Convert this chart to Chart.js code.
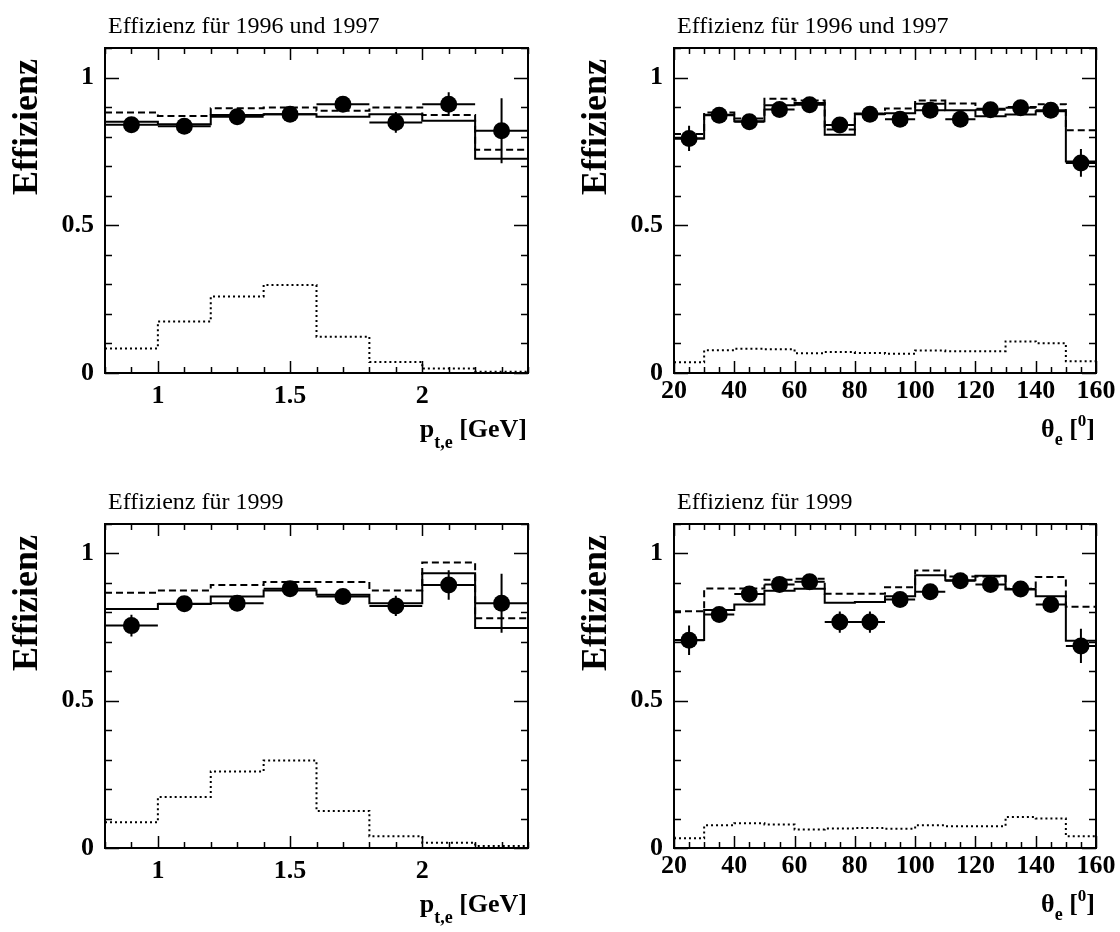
<!DOCTYPE html>
<html>
<head>
<meta charset="utf-8">
<script src="https://cdn.jsdelivr.net/npm/chart.js@4.4.1/dist/chart.umd.min.js"></script>
<style>
  html, body { margin: 0; padding: 0; background: #fff; }
  #wrap { position: relative; width: 1120px; height: 932px; overflow: hidden; background: #fff; }
  canvas { position: absolute; }
</style>
</head>
<body>
<div id="wrap">
  <canvas id="c1" width="560" height="466" style="left:0;top:0"></canvas>
  <canvas id="c2" width="560" height="466" style="left:560px;top:0"></canvas>
  <canvas id="c3" width="560" height="466" style="left:0;top:466px"></canvas>
  <canvas id="c4" width="560" height="466" style="left:560px;top:466px"></canvas>
</div>
<script>
// ---------- data ----------
const ptEdges = [0.8, 1.0, 1.2, 1.4, 1.6, 1.8, 2.0, 2.2, 2.4];
const thetaEdges = [20, 30, 40, 50, 60, 70, 80, 90, 100, 110, 120, 130, 140, 150, 160];

const ptTickValues = [1, 1.5, 2];
const thetaTickValues = [20, 40, 60, 80, 100, 120, 140, 160];
const yTickValues = [0, 0.5, 1];

const titles = ["Effizienz für 1996 und 1997", "Effizienz für 1996 und 1997", "Effizienz für 1999", "Effizienz für 1999"];
const yTitle = "Effizienz";

// p_t,e, 1996/97
const ptData9697  = [0.840, 0.835, 0.867, 0.876, 0.910, 0.848, 0.910, 0.820];
const ptErr9697   = [0.012, 0.012, 0.012, 0.012, 0.015, 0.035, 0.040, 0.110];
const ptSolid9697 = [0.850, 0.842, 0.873, 0.876, 0.867, 0.876, 0.854, 0.725];
const ptDash9697  = [0.882, 0.870, 0.896, 0.899, 0.888, 0.899, 0.873, 0.756];
const ptDot9697   = [0.083, 0.174, 0.259, 0.298, 0.123, 0.037, 0.015, 0.004];

// theta_e, 1996/97
const thData9697  = [0.794, 0.872, 0.850, 0.892, 0.908, 0.839, 0.876, 0.859, 0.889, 0.859, 0.891, 0.898, 0.889, 0.711];
const thErr9697   = [0.043, 0.015, 0.015, 0.015, 0.015, 0.015, 0.015, 0.015, 0.015, 0.015, 0.015, 0.015, 0.015, 0.047];
const thSolid9697 = [0.794, 0.874, 0.852, 0.906, 0.914, 0.806, 0.877, 0.879, 0.911, 0.889, 0.869, 0.875, 0.886, 0.716];
const thDash9697  = [0.809, 0.882, 0.861, 0.928, 0.922, 0.824, 0.878, 0.895, 0.922, 0.912, 0.894, 0.900, 0.910, 0.822];
const thDot9697   = [0.036, 0.077, 0.082, 0.080, 0.067, 0.071, 0.068, 0.065, 0.076, 0.074, 0.074, 0.107, 0.101, 0.040];

// p_t,e, 1999
const ptData99  = [0.755, 0.829, 0.831, 0.880, 0.854, 0.822, 0.893, 0.831];
const ptErr99   = [0.037, 0.015, 0.015, 0.015, 0.015, 0.034, 0.050, 0.100];
const ptSolid99 = [0.811, 0.828, 0.854, 0.874, 0.860, 0.831, 0.933, 0.747];
const ptDash99  = [0.867, 0.874, 0.893, 0.903, 0.903, 0.874, 0.969, 0.780];
const ptDot99   = [0.087, 0.173, 0.260, 0.297, 0.126, 0.040, 0.018, 0.007];

// theta_e, 1999
const thData99  = [0.705, 0.793, 0.862, 0.895, 0.904, 0.767, 0.767, 0.844, 0.870, 0.907, 0.895, 0.879, 0.827, 0.686];
const thErr99   = [0.050, 0.020, 0.015, 0.015, 0.015, 0.036, 0.036, 0.015, 0.015, 0.015, 0.015, 0.015, 0.015, 0.058];
const thSolid99 = [0.706, 0.808, 0.827, 0.873, 0.880, 0.833, 0.835, 0.855, 0.926, 0.909, 0.924, 0.878, 0.855, 0.704];
const thDash99  = [0.804, 0.881, 0.881, 0.911, 0.914, 0.863, 0.863, 0.885, 0.942, 0.922, 0.922, 0.880, 0.920, 0.819];
const thDot99   = [0.033, 0.077, 0.084, 0.080, 0.063, 0.066, 0.068, 0.065, 0.077, 0.074, 0.074, 0.105, 0.100, 0.040];

// ---------- drawing ----------
const SERIF = "'Liberation Serif', 'Times New Roman', serif";

const decor = {
  id: 'decor',
  afterDraw(chart, args, o) {
    const { ctx, chartArea: a, scales: { x, y } } = chart;
    ctx.save();
    ctx.strokeStyle = '#000';
    ctx.fillStyle = '#000';
    // ticks
    ctx.lineWidth = 1.5;
    ctx.beginPath();
    const isMaj = (v, arr) => arr.some(m => Math.abs(m - v) < 1e-6);
    for (let k = 0; ; k++) {
      const v = o.xmin + k * o.xMinorStep;
      if (v > o.xmax + 1e-9) break;
      const len = isMaj(v, o.xTicks) ? 12 : 6;
      const px = Math.round(x.getPixelForValue(v)) + 0.5;
      ctx.moveTo(px, a.bottom); ctx.lineTo(px, a.bottom - len);
      ctx.moveTo(px, a.top); ctx.lineTo(px, a.top + len);
    }
    for (let k = 0; k <= 11; k++) {
      const v = k * 0.1;
      const len = isMaj(v, yTickValues) ? 14 : 7;
      const py = Math.round(y.getPixelForValue(v)) + 0.5;
      ctx.moveTo(a.left, py); ctx.lineTo(a.left + len, py);
      ctx.moveTo(a.right, py); ctx.lineTo(a.right - len, py);
    }
    ctx.stroke();
    // frame
    ctx.lineWidth = 2;
    ctx.strokeRect(a.left, a.top, a.right - a.left, a.bottom - a.top);

    // panel title
    ctx.font = '24px ' + SERIF;
    ctx.textAlign = 'left';
    ctx.textBaseline = 'alphabetic';
    ctx.fillText(o.title, a.left + 3, a.top - 15);

    // y title
    ctx.save();
    ctx.font = 'bold 36px ' + SERIF;
    ctx.translate(a.left - 68, a.top + 11);
    ctx.rotate(-Math.PI / 2);
    ctx.textAlign = 'right';
    ctx.fillText(yTitle, 0, 0);
    ctx.restore();

    // x title (with sub/superscripts)
    const base = a.bottom + 64;
    const parts = o.xTitle;
    let total = 0;
    for (const p of parts) {
      ctx.font = 'bold ' + p.size + 'px ' + SERIF;
      p.w = ctx.measureText(p.t).width;
      total += p.w;
    }
    let cx = a.right - 1 - total;
    for (const p of parts) {
      ctx.font = 'bold ' + p.size + 'px ' + SERIF;
      ctx.textAlign = 'left';
      ctx.fillText(p.t, cx, base + (p.dy || 0));
      cx += p.w;
    }
    ctx.restore();
  }
};

function histPts(edges, vals) {
  const pts = vals.map((v, i) => ({ x: edges[i], y: v }));
  pts.push({ x: edges[edges.length - 1], y: vals[vals.length - 1] });
  return pts;
}

function makePanel(id, cfg) {
  const edges = cfg.edges;
  const centers = edges.slice(0, -1).map((e, i) => (e + edges[i + 1]) / 2);
  const errH = [], errV = [];
  cfg.data.forEach((v, i) => {
    errH.push({ x: edges[i], y: v }, { x: edges[i + 1], y: v }, { x: edges[i + 1], y: null });
    errV.push({ x: centers[i], y: v - cfg.err[i] }, { x: centers[i], y: v + cfg.err[i] }, { x: centers[i], y: null });
  });
  const line = (data, extra) => Object.assign({
    data, borderColor: '#000', borderWidth: 2, pointRadius: 0, fill: false, spanGaps: false, tension: 0
  }, extra || {});

  new Chart(document.getElementById(id), {
    type: 'line',
    data: {
      datasets: [
        { data: centers.map((c, i) => ({ x: c, y: cfg.data[i] })), showLine: false,
          pointRadius: 8.5, pointBackgroundColor: '#000', pointBorderColor: '#000', pointBorderWidth: 0, borderColor: '#000' },
        line(errV),
        line(errH),
        line(histPts(edges, cfg.solid), { stepped: 'before' }),
        line(histPts(edges, cfg.dash), { stepped: 'before', borderDash: [7, 4] }),
        line(histPts(edges, cfg.dot), { stepped: 'before', borderDash: [2, 3] })
      ]
    },
    options: {
      responsive: false,
      animation: false,
      events: [],
      layout: { padding: { top: cfg.T, right: cfg.R, left: 0, bottom: 0 }, autoPadding: false },
      plugins: {
        legend: { display: false },
        tooltip: { enabled: false },
        decor: { xmin: cfg.xmin, xmax: cfg.xmax, xMinorStep: cfg.minor, xTicks: cfg.xTicks, title: cfg.title, xTitle: cfg.xTitle }
      },
      scales: {
        x: {
          type: 'linear', min: cfg.xmin, max: cfg.xmax,
          grid: { display: false, drawTicks: false }, border: { display: false },
          ticks: { color: '#000', font: { family: SERIF, weight: 'bold', size: 26 }, padding: cfg.xpad,
                   maxRotation: 0, autoSkip: false, callback: v => String(v) },
          afterBuildTicks: s => { s.ticks = cfg.xTicks.map(v => ({ value: v })); },
          afterFit: s => { s.height = cfg.B; }
        },
        y: {
          type: 'linear', min: 0, max: 1.1,
          grid: { display: false, drawTicks: false }, border: { display: false },
          ticks: { color: '#000', font: { family: SERIF, weight: 'bold', size: 26 }, padding: 11,
                   autoSkip: false, callback: v => String(v) },
          afterBuildTicks: s => { s.ticks = yTickValues.map(v => ({ value: v })); },
          afterFit: s => { s.width = cfg.L; }
        }
      }
    },
    plugins: [decor]
  });
}

const ptTitle = [{ t: 'p', size: 26 }, { t: 't,e', size: 18, dy: 11 }, { t: ' [GeV]', size: 26 }];
const thTitle = [{ t: 'θ', size: 26 }, { t: 'e', size: 18, dy: 8 }, { t: ' [', size: 26 }, { t: '0', size: 17, dy: -11 }, { t: ']', size: 26 }];

makePanel('c1', { edges: ptEdges, xmin: 0.8, xmax: 2.4, minor: 0.1, xTicks: ptTickValues, xpad: 8,
  L: 105, R: 32, T: 48, B: 93, title: titles[0], xTitle: ptTitle,
  data: ptData9697, err: ptErr9697, solid: ptSolid9697, dash: ptDash9697, dot: ptDot9697 });
makePanel('c2', { edges: thetaEdges, xmin: 20, xmax: 160, minor: 5, xTicks: thetaTickValues, xpad: 3,
  L: 114, R: 24, T: 48, B: 93, title: titles[1], xTitle: thTitle,
  data: thData9697, err: thErr9697, solid: thSolid9697, dash: thDash9697, dot: thDot9697 });
makePanel('c3', { edges: ptEdges, xmin: 0.8, xmax: 2.4, minor: 0.1, xTicks: ptTickValues, xpad: 8,
  L: 105, R: 32, T: 58, B: 84, title: titles[2], xTitle: ptTitle,
  data: ptData99, err: ptErr99, solid: ptSolid99, dash: ptDash99, dot: ptDot99 });
makePanel('c4', { edges: thetaEdges, xmin: 20, xmax: 160, minor: 5, xTicks: thetaTickValues, xpad: 3,
  L: 114, R: 24, T: 58, B: 84, title: titles[3], xTitle: thTitle,
  data: thData99, err: thErr99, solid: thSolid99, dash: thDash99, dot: thDot99 });
</script>
</body>
</html>
